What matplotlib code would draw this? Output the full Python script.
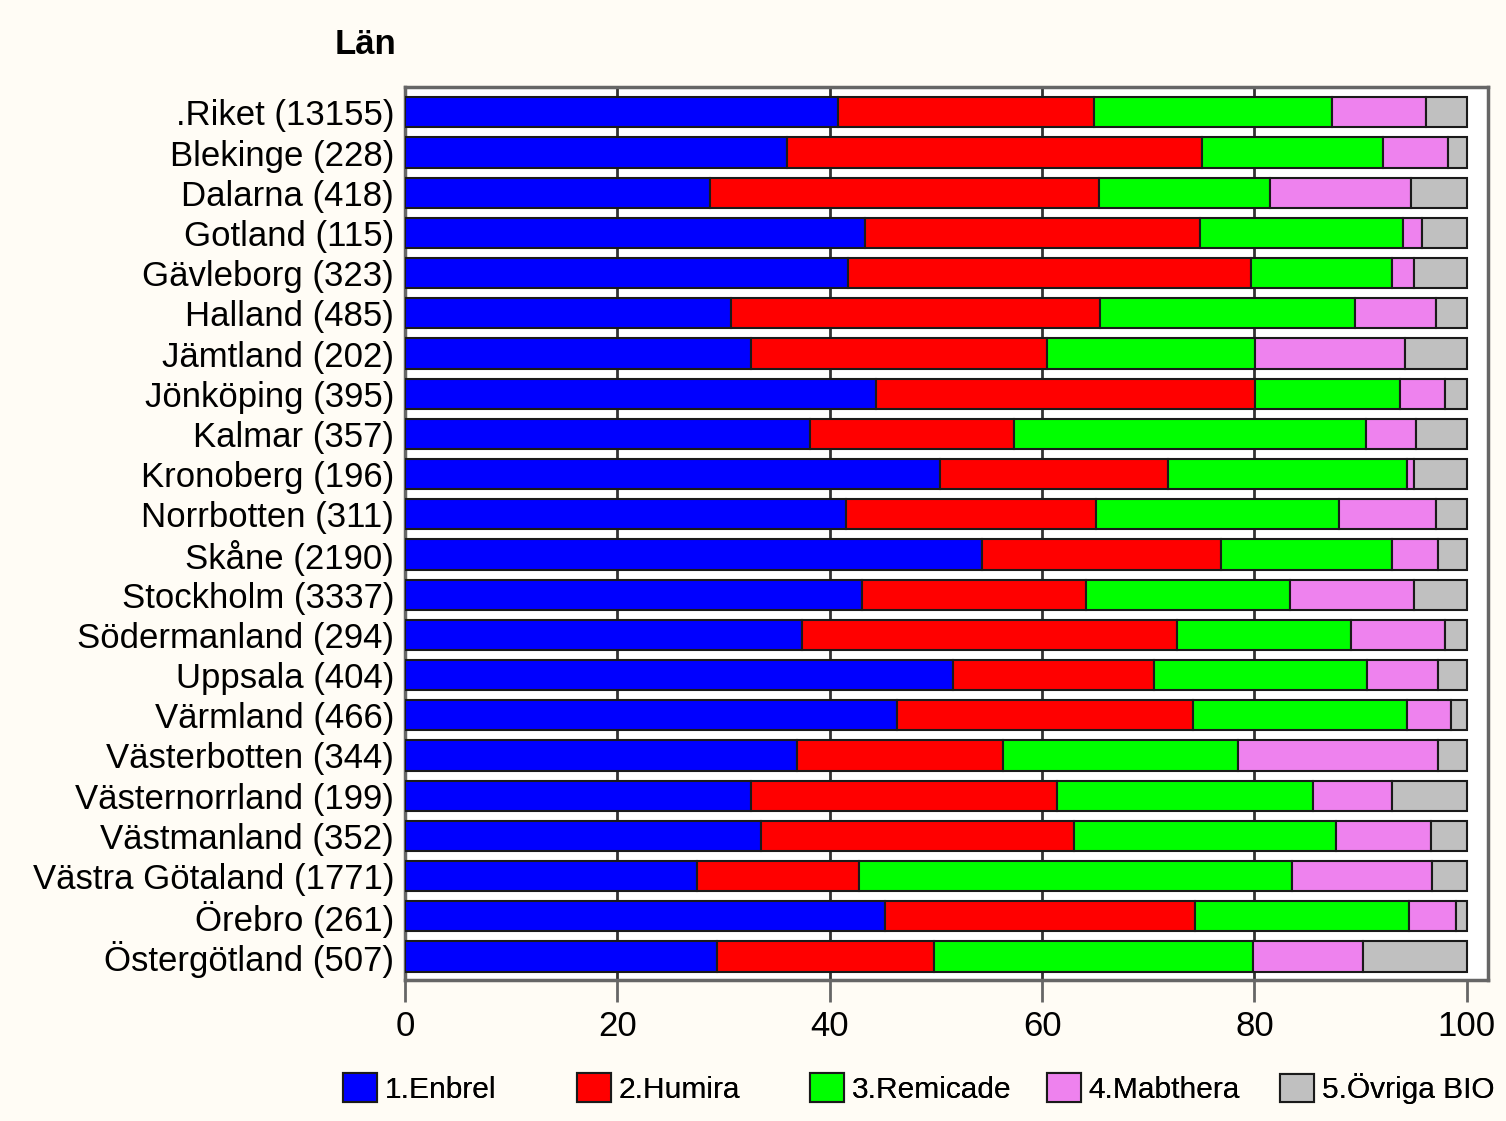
import matplotlib.pyplot as plt
import numpy as np

# Data (percent of patients per drug, by county)
lan = ['.Riket (13155)', 'Blekinge (228)', 'Dalarna (418)', 'Gotland (115)', 'Gävleborg (323)',
       'Halland (485)', 'Jämtland (202)', 'Jönköping (395)', 'Kalmar (357)', 'Kronoberg (196)',
       'Norrbotten (311)', 'Skåne (2190)', 'Stockholm (3337)', 'Södermanland (294)', 'Uppsala (404)',
       'Värmland (466)', 'Västerbotten (344)', 'Västernorrland (199)', 'Västmanland (352)',
       'Västra Götaland (1771)', 'Örebro (261)', 'Östergötland (507)']

enbrel = [40.8, 36.0, 28.7, 43.3, 41.7, 30.7, 32.6, 44.4, 38.1, 50.4, 41.5,
          54.3, 43.0, 37.4, 51.6, 46.3, 36.9, 32.6, 33.5, 27.5, 45.2, 29.4]
humira = [24.1, 39.1, 36.7, 31.6, 38.0, 34.8, 27.9, 35.7, 19.3, 21.5, 23.6,
          22.6, 21.1, 35.3, 18.9, 27.9, 19.4, 28.8, 29.5, 15.3, 29.2, 20.4]
remicade = [22.4, 17.0, 16.1, 19.1, 13.3, 24.0, 19.6, 13.6, 33.1, 22.5, 22.9,
            16.1, 19.3, 16.4, 20.1, 20.2, 22.2, 24.1, 24.7, 40.7, 20.2, 30.1]
mabthera = [8.9, 6.1, 13.3, 1.8, 2.0, 7.6, 14.1, 4.3, 4.7, 0.6, 9.1,
            4.3, 11.6, 8.9, 6.7, 4.1, 18.8, 7.5, 8.9, 13.2, 4.4, 10.3]
ovriga = [3.8, 1.8, 5.2, 4.2, 5.0, 2.9, 5.8, 2.0, 4.8, 5.0, 2.9,
          2.7, 5.0, 2.0, 2.7, 1.5, 2.7, 7.0, 3.4, 3.3, 1.0, 9.8]

series = [enbrel, humira, remicade, mabthera, ovriga]
names = ['1.Enbrel', '2.Humira', '3.Remicade', '4.Mabthera', '5.Övriga BIO']
colors = ['#0000FF', '#FF0000', '#00FF00', '#EE82EE', '#C0C0C0']

plt.rcParams['font.family'] = ['Liberation Sans', 'DejaVu Sans']

fig = plt.figure(figsize=(15.06, 11.21), dpi=100, facecolor='#FFFCF5')
ax = fig.add_axes([0.269, 0.126, 0.719, 0.796])
ax.set_facecolor('white')

y = np.arange(len(lan))
left = np.zeros(len(lan))
handles = []
for vals, name, col in zip(series, names, colors):
    b = ax.barh(y, vals, left=left, height=0.75, color=col, edgecolor='#1a1a1a',
                linewidth=1.5, label=name, zorder=3)
    handles.append(b)
    left += np.array(vals)

ax.set_xlim(0, 102)
ax.set_ylim(21.58, -0.62)
ax.set_xticks([0, 20, 40, 60, 80, 100])
ax.set_yticks(y)
ax.set_yticklabels(lan)
ax.tick_params(axis='y', length=0, labelsize=25, pad=8)
ax.tick_params(axis='x', length=16, width=2, color='#666666', labelsize=25, pad=6)
for x in [20, 40, 60, 80]:
    ax.axvline(x, color='#333333', linewidth=2, zorder=1)
for s in ax.spines.values():
    s.set_color('#666666')
    s.set_linewidth(2.5)

fig.text(0.243, 0.96, 'Län', fontsize=25, fontweight='bold', ha='center', va='center')

# legend entries sit in fixed-width columns
leg_x = [0.228, 0.383, 0.538, 0.695, 0.850]
for h, name, lx in zip(handles, names, leg_x):
    lg = fig.legend([h], [name], loc='center left', bbox_to_anchor=(lx, 0.029),
                    frameon=False, fontsize=21.5, handlelength=1.14, handleheight=1.1,
                    handletextpad=0.25, borderpad=0, borderaxespad=0)
    fig.add_artist(lg)

fig.savefig('out.png', dpi=100, facecolor=fig.get_facecolor())
